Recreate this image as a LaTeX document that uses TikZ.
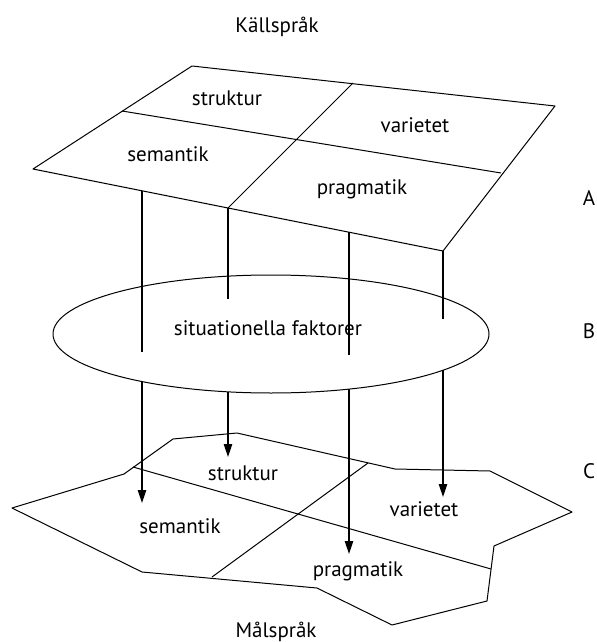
\documentclass[tikz,border=0pt]{standalone}
\usepackage{fontspec}
\setmainfont{PT Sans}
\usetikzlibrary{arrows.meta}

\tikzset{
  ebene/.style={line width=0.5pt, line join=round},
  linie/.style={line width=0.6pt},
  pfeil/.style={line width=0.6pt, -{Triangle[length=6.5pt,width=4.2pt]}},
  feld/.style={font=\fontsize{10.5}{12}\selectfont, inner sep=0pt, anchor=base},
}

\begin{document}
\begin{tikzpicture}[x=0.5pt, y=-0.5pt]
    \useasboundingbox (0,0) rectangle (597,642);

    % Ausgangssprache (oben)
    \node[feld] (quelle) at (277,33) {Källspråk};
    \coordinate (q1) at (192,66);
    \coordinate (q2) at (555,106);
    \coordinate (q3) at (443,251);
    \coordinate (q4) at (33,169);
    \draw[ebene] (q1) -- (q2) -- (q3) -- (q4) -- cycle;
    \coordinate (qlinks) at (122,111);
    \coordinate (qrechts) at (501,173);
    \coordinate (qoben) at (353,83);
    \coordinate (qunten) at (228,208);
    \draw[ebene] (qlinks) -- (qrechts);
    \draw[ebene] (qoben) -- (qunten);
    \node[feld] (qstruktur) at (227,105) {struktur};
    \node[feld] (qvarietet) at (415,133) {varietet};
    \node[feld] (qsemantik) at (168,162) {semantik};
    \node[feld] (qpragmatik) at (362,194) {pragmatik};

    % Situationella faktorer
    \draw[ebene] (271,334) ellipse [x radius=218, y radius=59];
    \node[feld] (situation) at (268,335) {situationella faktorer};

    % Zielsprache (unten)
    \draw[ebene] (12,508) -- (124,474) -- (173,439) -- (237,433) -- (395,469)
        -- (490,471) -- (572,512) -- (494,546) -- (487,601) -- (392,625)
        -- (317,588) -- (142,572) -- cycle;
    \coordinate (zlinks) at (133,467);
    \coordinate (zrechts) at (491,569);
    \coordinate (zoben) at (368,463);
    \coordinate (zunten) at (212,577);
    \draw[ebene] (zlinks) -- (zrechts);
    \draw[ebene] (zoben) -- (zunten);
    \node[feld] (zstruktur) at (243,480) {struktur};
    \node[feld] (zvarietet) at (424,516) {varietet};
    \node[feld] (zsemantik) at (180,533) {semantik};
    \node[feld] (zpragmatik) at (358,576) {pragmatik};
    \node[feld] (ziel) at (276,637) {Målspråk};

    % Verbindungen durch die Ellipse
    \foreach \n/\x/\a/\b/\c/\d in {1/142/191/352/382/503, 2/228/208/299/392/457,
                                   3/349/232/355/389/554, 4/443/251/319/370/497} {
        \coordinate (o\n) at (\x,\a);
        \coordinate (m\n) at (\x,\b);
        \coordinate (u\n) at (\x,\c);
        \coordinate (t\n) at (\x,\d);
        \draw[linie] (o\n) -- (m\n);
        \draw[pfeil] (u\n) -- (t\n);
    }

    % Ebenen
    \node[feld] (ebeneA) at (589,205) {A};
    \node[feld] (ebeneB) at (589,338) {B};
    \node[feld] (ebeneC) at (589,478) {C};

\end{tikzpicture}
\end{document}
